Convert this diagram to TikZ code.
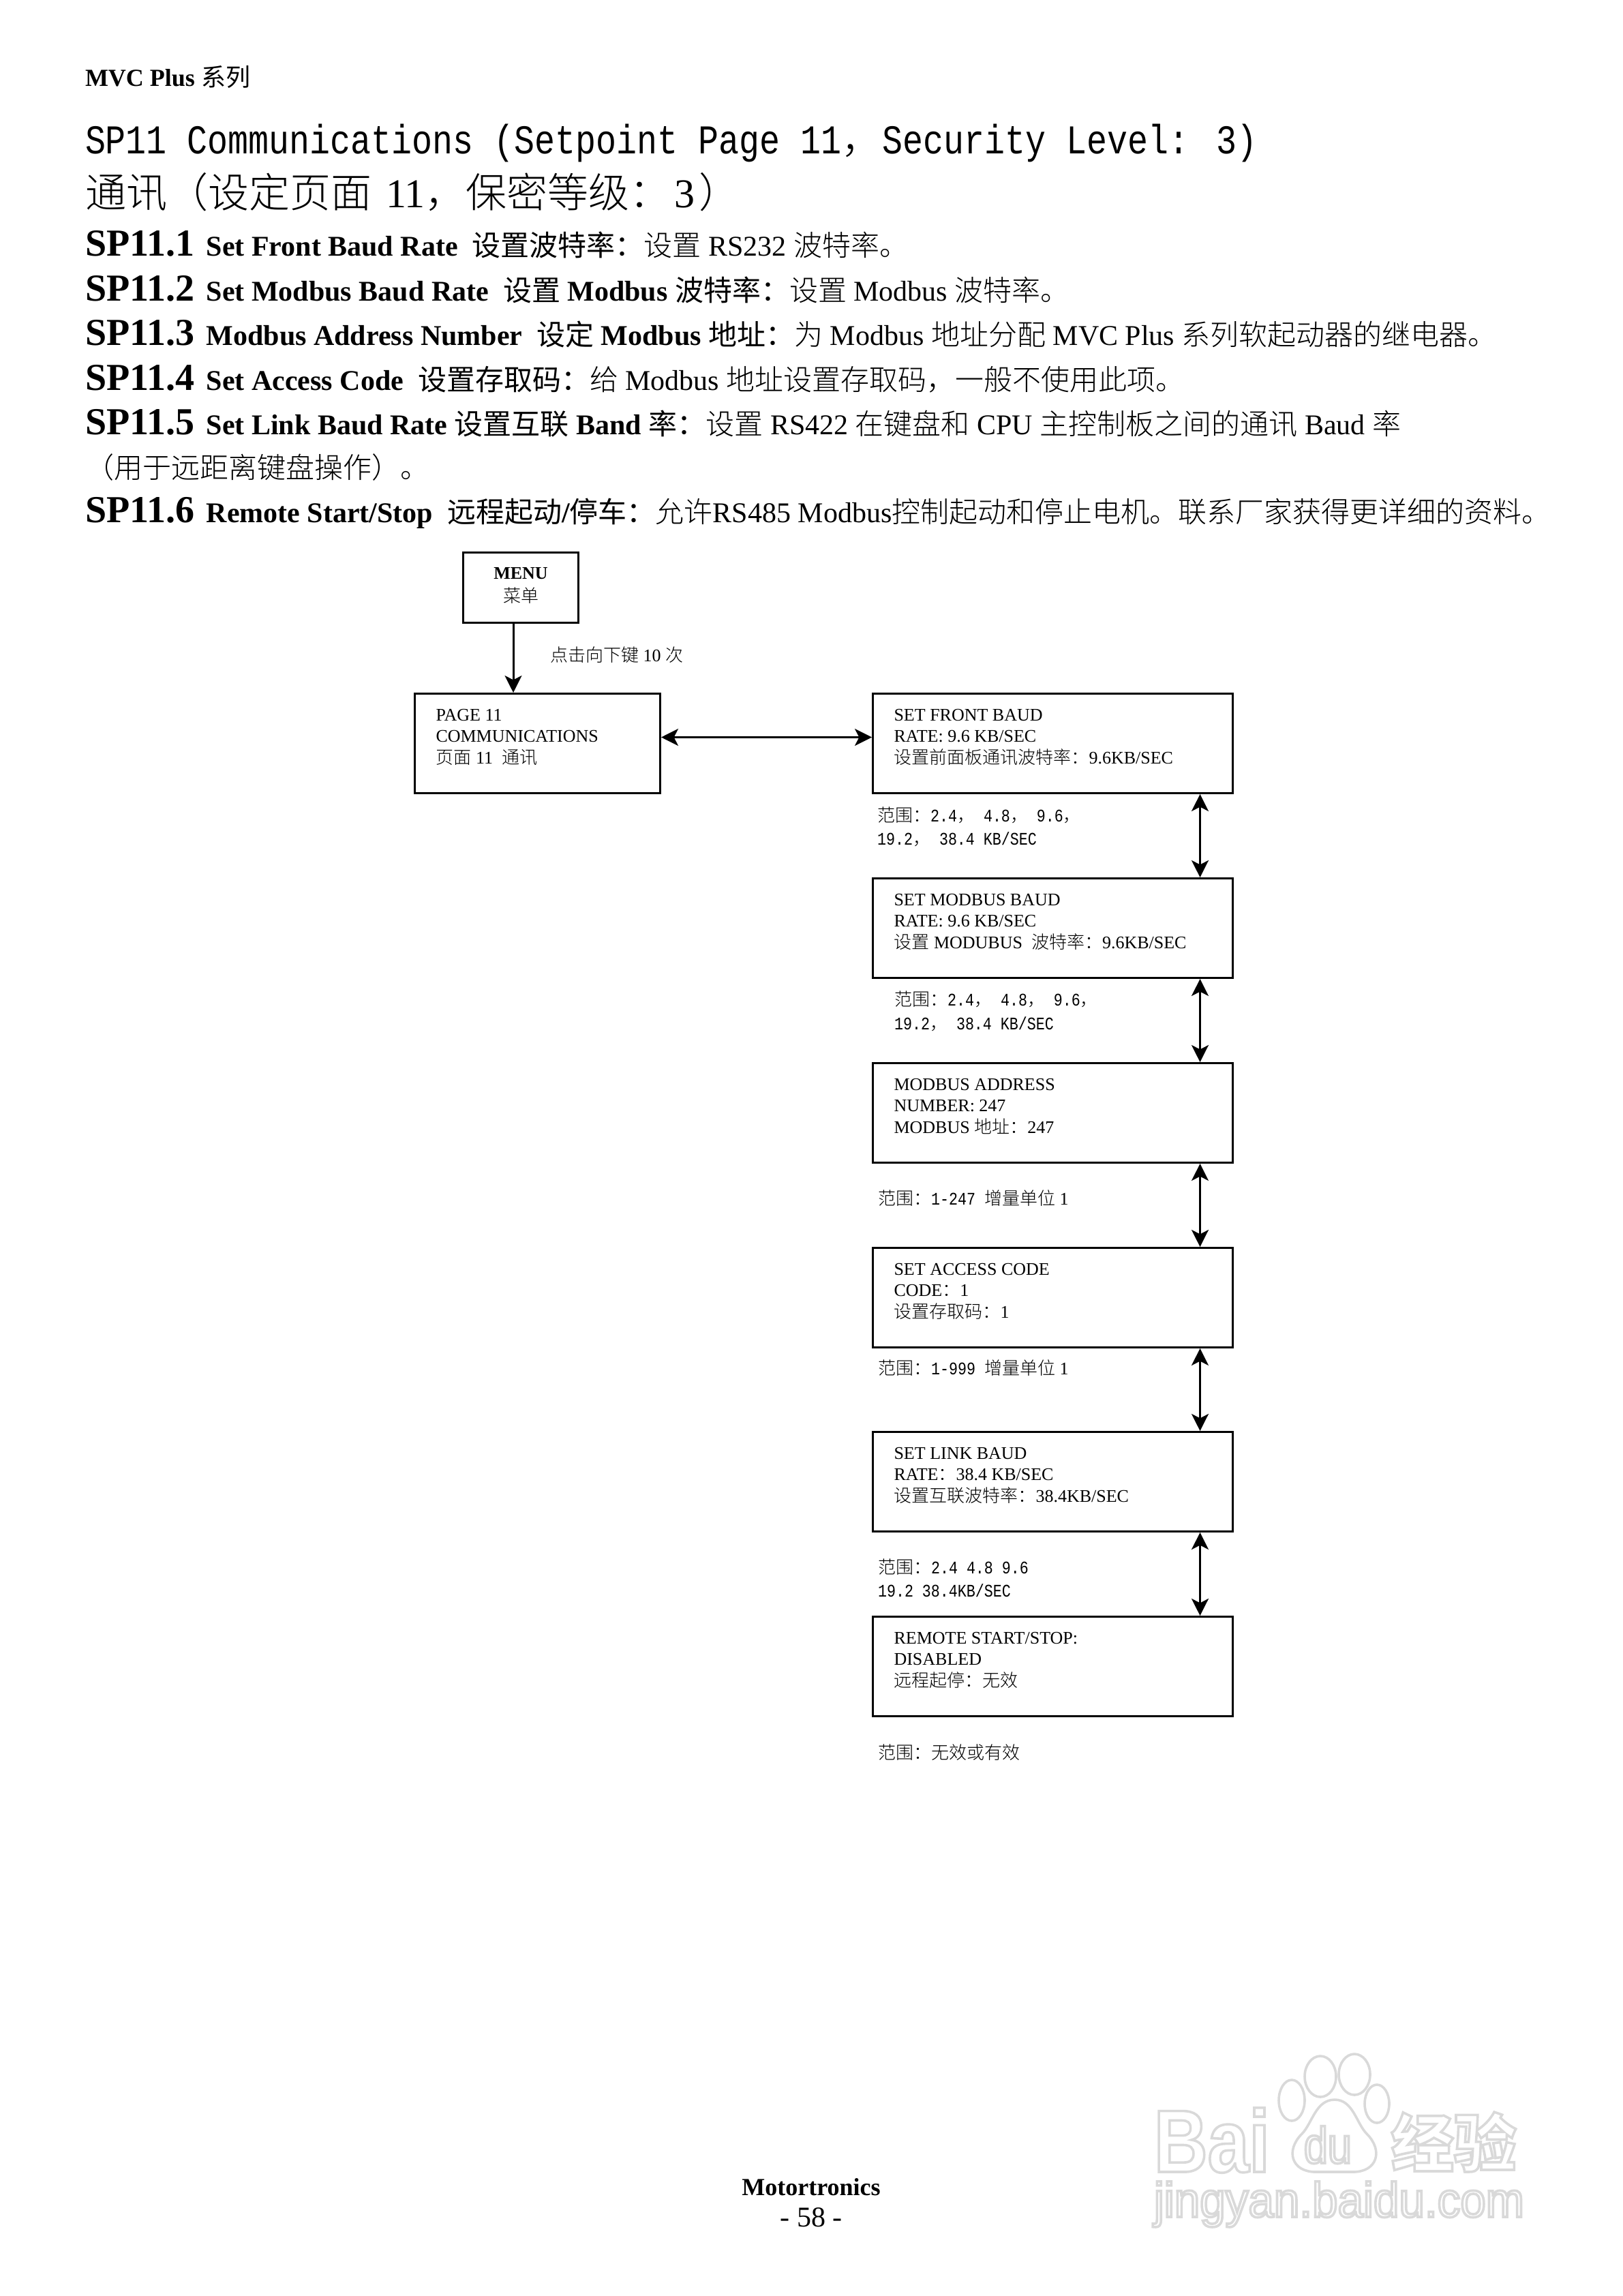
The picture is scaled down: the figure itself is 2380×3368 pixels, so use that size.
\documentclass[tikz,border=0pt]{standalone}
\usepackage{fontspec}
\usetikzlibrary{arrows.meta}
\setmainfont{Liberation Serif}
\newfontfamily\zhf{Noto Sans CJK SC Light}[BoldFont={Noto Sans CJK SC}]
\newfontfamily\zhwm{Noto Sans CJK SC}
\newfontfamily\simm{Liberation Mono}[FakeStretch=0.833]
\newfontfamily\wmf{Liberation Sans}[FakeStretch=0.84]
\newfontfamily\wmurlf{Liberation Sans}[FakeStretch=0.936]
\newcommand\zh[1]{{\zhf #1}}
\newcommand\outl[1]{\special{pdf:code q 0.85 0.85 0.85 RG 0.9 w 1 Tr}#1\special{pdf:code Q}}
\newcommand\sptag[1]{{\bfseries\fontsize{14pt}{16pt}\selectfont #1\kern1.75pt}}
\newcommand\threelines[3]{\rule{0pt}{6pt}#1\\#2\\#3\rule[-7pt]{0pt}{7pt}}
\lineskiplimit=-10pt
\definecolor{wmline}{gray}{0.85}
\tikzset{
  x=0.25pt,y=-0.25pt,
  txt/.style={anchor=base west,inner sep=0pt,outer sep=0pt},
  body/.style={txt,font=\fontsize{10.5pt}{12pt}\selectfont},
  titlefont/.style={txt,font=\fontsize{15pt}{18pt}\selectfont},
  rangelabel/.style={txt,font=\fontsize{6.5pt}{8pt}\selectfont\simm},
  setbox/.style={draw,line width=0.75pt,rectangle,anchor=north west,minimum height=36.5pt,
    inner ysep=0pt,inner xsep=7.75pt,align=flush left,
    font=\fontsize{6.5pt}{7.875pt}\selectfont},
  widebox/.style={setbox,minimum width=132pt,text width=116.5pt},
  pagebox/.style={setbox,minimum width=90pt,text width=74.5pt},
  menubox/.style={draw,line width=0.75pt,rectangle,anchor=north west,minimum width=42.25pt,minimum height=25.75pt,
    inner sep=0pt,align=center,text width=42pt,
    font=\fontsize{6.5pt}{8.5pt}\selectfont},
  flow/.style={line width=0.75pt,draw},
  twoway/.style={flow,{Stealth[length=6.25pt,width=6.25pt,inset=1.6pt]}-{Stealth[length=6.25pt,width=6.25pt,inset=1.6pt]}},
  oneway/.style={flow,-{Stealth[length=6.25pt,width=6.25pt,inset=1.6pt]}},
  wmshape/.style={draw=wmline,line width=0.9pt,fill=white},
  wmtext/.style={anchor=base west,inner sep=0pt,text=white},
}
\begin{document}
\begin{tikzpicture}
\useasboundingbox (0,0) rectangle (2380,3368);

% page text
\node[txt,font=\fontsize{9pt}{11pt}\selectfont\bfseries] (hdr) at (125,127) {MVC Plus \zh{系列}};
\node[titlefont] (t1) at (125,226) {\simm SP11 Communications (Setpoint Page 11\zh{，}Security Level: 3)};
\node[titlefont] (t2) at (125,305) {\zh{通讯（设定页面} \kern1.5pt 11\zh{，保密等级：}\kern1.5pt 3\kern1.5pt\zh{）}};
\node[body] (s1) at (125,376) {\sptag{SP11.1} {\bfseries Set Front Baud Rate\ \ \zh{设置波特率：}}\zh{设置} RS232 \zh{波特率。}};
\node[body] (s2) at (125,442) {\sptag{SP11.2} {\bfseries Set Modbus Baud Rate\ \ \zh{设置} Modbus \zh{波特率：}}\zh{设置} Modbus \zh{波特率。}};
\node[body] (s3) at (125,507) {\sptag{SP11.3} {\bfseries Modbus Address Number\ \ \zh{设定} Modbus \zh{地址：}}\zh{为} Modbus \zh{地址分配} MVC Plus \zh{系列软起动器的继电器。}};
\node[body] (s4) at (125,573) {\sptag{SP11.4} {\bfseries Set Access Code\ \ \zh{设置存取码：}}\zh{给} Modbus \zh{地址设置存取码，一般不使用此项。}};
\node[body] (s5) at (125,638) {\sptag{SP11.5} {\bfseries Set Link Baud Rate \zh{设置互联} Band \zh{率：}}\zh{设置} RS422 \zh{在键盘和} CPU \zh{主控制板之间的通讯} Baud \zh{率}};
\node[body] (s5b) at (125,702) {\zh{（用于远距离键盘操作）。}};
\node[body] (s6) at (125,767) {\sptag{SP11.6} {\bfseries Remote Start/Stop\ \ \zh{远程起动}/\zh{停车：}}\zh{允许}RS485 Modbus\zh{控制起动和停止电机。联系厂家获得更详细的资料。}};

% boxes
\node[menubox] (menu) at (678,809) {\rule{0pt}{6pt}{\bfseries MENU}\\\zh{菜单}\rule[-3.75pt]{0pt}{3.75pt}};
\node[pagebox] (page) at (607,1016) {\threelines{PAGE 11}{COMMUNICATIONS}{\zh{页面} 11 \ \zh{通讯}}};
\node[widebox] (front) at (1279,1016) {\threelines{SET FRONT BAUD}{RATE: 9.6 KB/SEC}{\zh{设置前面板通讯波特率：}9.6KB/SEC}};
\node[widebox] (modbus) at (1279,1287) {\threelines{SET MODBUS BAUD}{RATE: 9.6 KB/SEC}{\zh{设置} MODUBUS \ \zh{波特率：}9.6KB/SEC}};
\node[widebox] (addr) at (1279,1558) {\threelines{MODBUS ADDRESS}{NUMBER: 247}{MODBUS \zh{地址：}247}};
\node[widebox] (access) at (1279,1829) {\threelines{SET ACCESS CODE}{CODE\zh{：}1}{\zh{设置存取码：}1}};
\node[widebox] (link) at (1279,2099) {\threelines{SET LINK BAUD}{RATE\zh{：}38.4 KB/SEC}{\zh{设置互联波特率：}38.4KB/SEC}};
\node[widebox] (remote) at (1279,2370) {\threelines{REMOTE START/STOP:}{DISABLED}{\zh{远程起停：无效}}};

% labels
\node[rangelabel] (presslbl) at (807,970) {\zh{点击向下键}{\rmfamily\ 10 }\zh{次}};
\node[rangelabel] (r1a) at (1287,1205) {\zh{范围：}2.4\zh{，} 4.8\zh{，} 9.6\zh{，}};
\node[rangelabel] (r1b) at (1287,1239) {19.2\zh{，} 38.4 KB/SEC};
\node[rangelabel] (r2a) at (1312,1475) {\zh{范围：}2.4\zh{，} 4.8\zh{，} 9.6\zh{，}};
\node[rangelabel] (r2b) at (1312,1510) {19.2\zh{，} 38.4 KB/SEC};
\node[rangelabel] (r3) at (1288,1767) {\zh{范围：}1-247 \zh{增量单位}{\rmfamily\ 1}};
\node[rangelabel] (r4) at (1288,2016) {\zh{范围：}1-999 \zh{增量单位}{\rmfamily\ 1}};
\node[rangelabel] (r5a) at (1288,2308) {\zh{范围：}2.4 4.8 9.6};
\node[rangelabel] (r5b) at (1288,2342) {19.2 38.4KB/SEC};
\node[rangelabel] (r6) at (1288,2580) {\zh{范围：无效或有效}};

% connectors
\draw[oneway] ([xshift=-2.75pt]menu.south) -- ([xshift=-2.75pt]menu.south |- page.north);
\draw[twoway] ([yshift=2.25pt]page.east) -- ([yshift=2.25pt]front.west);
\draw[twoway] ([xshift=54pt]front.south) -- ([xshift=54pt]modbus.north);
\draw[twoway] ([xshift=54pt]modbus.south) -- ([xshift=54pt]addr.north);
\draw[twoway] ([xshift=54pt]addr.south) -- ([xshift=54pt]access.north);
\draw[twoway] ([xshift=54pt]access.south) -- ([xshift=54pt]link.north);
\draw[twoway] ([xshift=54pt]link.south) -- ([xshift=54pt]remote.north);

% footer
\node[anchor=base,inner sep=0pt,font=\fontsize{9pt}{11pt}\selectfont\bfseries] (foot) at (1190,3220) {Motortronics};
\node[anchor=base,inner sep=0pt,font=\fontsize{10.5pt}{12pt}\selectfont] (pageno) at (1190,3266) {- 58 -};

% watermark
\draw[wmshape] (1937,3046) ellipse [x radius=23,y radius=30];
\draw[wmshape] (1987,3043) ellipse [x radius=23,y radius=30];
\node[wmtext,font=\fontsize{32.5pt}{36pt}\selectfont\wmf\bfseries] (wmbai) at (1692,3186) {\smash{\outl{Bai}}};
\draw[wmshape] (1895,3081) ellipse [x radius=19,y radius=30];
\draw[wmshape] (2020,3086) ellipse [x radius=18,y radius=28];
\draw[wmshape] (1958,3080) .. controls (1985,3080) and (1990,3115) .. (2005,3130)
  .. controls (2030,3155) and (2020,3186) .. (1985,3186)
  .. controls (1970,3186) and (1945,3186) .. (1930,3186)
  .. controls (1895,3186) and (1885,3155) .. (1910,3130)
  .. controls (1925,3115) and (1930,3080) .. (1958,3080) -- cycle;
\node[wmtext,font=\fontsize{18.75pt}{22pt}\selectfont\wmf] (wmdu) at (1912,3173) {\outl{du}};
\node[wmtext,font=\fontsize{23pt}{26pt}\selectfont\zhwm\bfseries] (wmjy) at (2040,3178) {\smash{\outl{经验}}};
\node[wmtext,font=\fontsize{18pt}{20pt}\selectfont\wmurlf] (wmurl) at (1692,3252) {\outl{jingyan.baidu.com}};
\end{tikzpicture}
\end{document}
